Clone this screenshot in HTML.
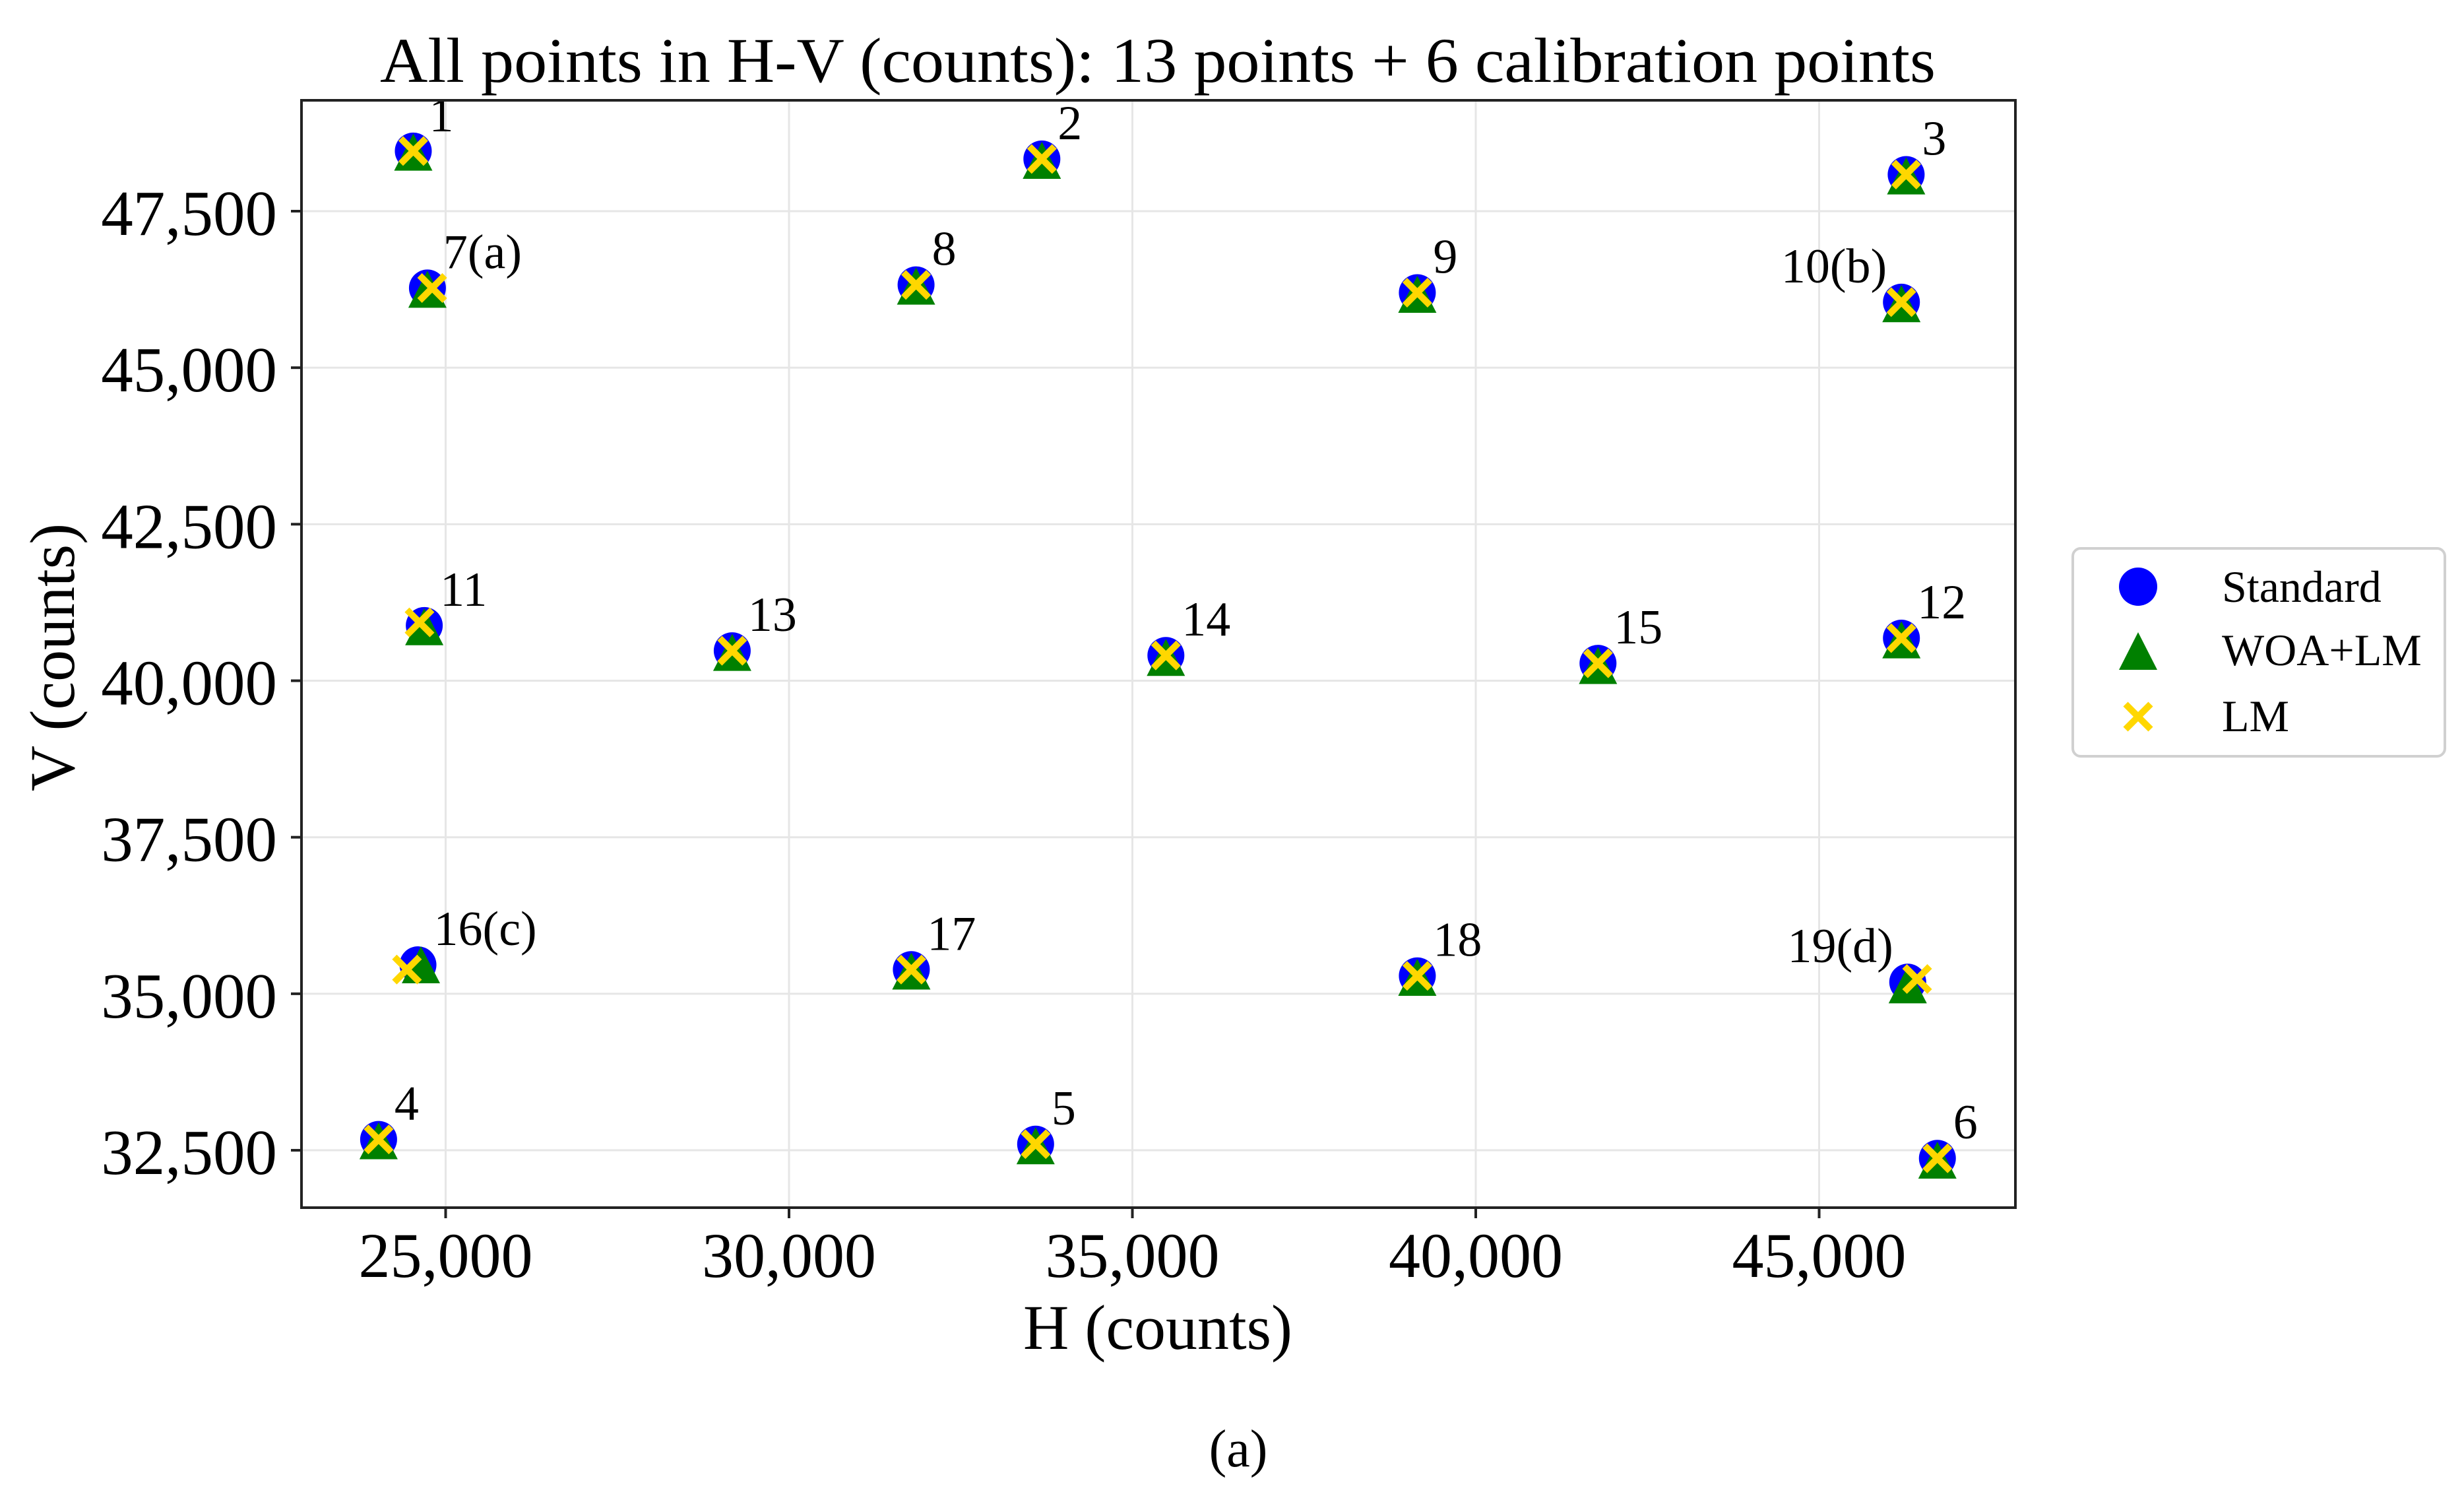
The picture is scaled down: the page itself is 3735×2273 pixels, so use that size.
<!DOCTYPE html>
<html><head><meta charset="utf-8"><style>
html,body{margin:0;padding:0;background:#fff;}
svg{display:block;font-family:"Liberation Serif",serif;}
</style></head><body>
<svg id="chart" width="3735" height="2273" viewBox="0 0 3735 2273">
<rect x="0" y="0" width="3735" height="2273" fill="#fff"/>
<g id="grid"></g>
<g id="marks"></g>
<rect x="457" y="152" width="2598" height="1678" fill="none" stroke="#222" stroke-width="4"/>
<g id="axes"></g>
<text x="1755" y="124" font-size="96" text-anchor="middle" textLength="2358" lengthAdjust="spacingAndGlyphs">All points in H-V (counts): 13 points + 6 calibration points</text>
<text x="1755" y="2044" font-size="96" text-anchor="middle">H (counts)</text>
<text transform="translate(112,996) rotate(-90)" font-size="96" text-anchor="middle">V (counts)</text>
<text x="1877" y="2222" font-size="80" text-anchor="middle">(a)</text>
<g>
<rect x="3142" y="831" width="564" height="315" rx="12" fill="#fff" stroke="#d0d0d0" stroke-width="4"/>
<g>
<circle cx="3241" cy="889" r="29" fill="#0000ff"/>
<text x="3368" y="912" font-size="68">Standard</text></g>
<g>
<polygon points="3241,958 3270,1015 3212,1015" fill="#008000"/>
<text x="3368" y="1008" font-size="68">WOA+LM</text></g>
<g>
<path d="M3222,1067 L3260,1105 M3260,1067 L3222,1105" stroke="#ffd700" stroke-width="10"/>
<text x="3368" y="1108" font-size="68">LM</text></g>
</g>
</svg>
<script>
const pointNames = ["1","2","3","4","5","6","7(a)","8","9","10(b)","11","12","13","14","15","16(c)","17","18","19(d)"];
const labelSide = ["r","r","r","r","r","r","r","r","r","l","r","r","r","r","r","r","r","r","l"];
const stdH = [24529,33682,46267,24024,33591,46722,24735,31850,39149,46198,24689,46198,29173,35488,41780,24597,31781,39149,46290];
const stdV = [48461,48334,48085,32673,32598,32372,46273,46323,46198,46047,40882,40680,40479,40404,40278,35462,35386,35286,35186];
const woaH = [24529,33682,46267,24024,33591,46722,24735,31850,39149,46198,24689,46198,29173,35488,41780,24640,31781,39149,46290];
const woaV = [48400,48270,48020,32610,32530,32300,46210,46260,46130,45980,40820,40610,40410,40330,40200,35420,35320,35220,35100];
const lmH = [24529,33682,46267,24024,33591,46722,24804,31850,39149,46198,24620,46198,29173,35488,41780,24437,31781,39149,46427];
const lmV = [48461,48334,48085,32673,32598,32372,46273,46323,46198,46047,40932,40680,40479,40404,40278,35387,35386,35286,35236];
const xTicks = [25000,30000,35000,40000,45000];
const xTickLabels = ["25,000","30,000","35,000","40,000","45,000"];
const yTicks = [32500,35000,37500,40000,42500,45000,47500];
const yTickLabels = ["32,500","35,000","37,500","40,000","42,500","45,000","47,500"];

const NS = "http://www.w3.org/2000/svg";
function X(h){ return 675.5 + (h - 25000) * 0.1041; }
function Y(v){ return 320 + (47500 - v) * 0.09487; }
function mk(tag, attrs, parent){ const e = document.createElementNS(NS, tag); for (const k in attrs) e.setAttribute(k, attrs[k]); parent.appendChild(e); return e; }
const grid = document.getElementById('grid'), axes = document.getElementById('axes'), marks = document.getElementById('marks');

xTicks.forEach((t, i) => {
  const x = X(t);
  const g = mk('line', {x1:x, x2:x, y1:152, y2:1830, stroke:'#e6e6e6', 'stroke-width':3}, grid);
  
  
  const tk = mk('line', {x1:x, x2:x, y1:1830, y2:1846, stroke:'#222', 'stroke-width':4}, axes);
  
  
  const tx = mk('text', {x:x, y:1935, 'font-size':96, 'text-anchor':'middle'}, axes);
  tx.textContent = xTickLabels[i];
  
  
});
yTicks.forEach((t, i) => {
  const y = Y(t);
  const g = mk('line', {x1:457, x2:3055, y1:y, y2:y, stroke:'#e6e6e6', 'stroke-width':3}, grid);
  
  
  const tk = mk('line', {x1:441, x2:457, y1:y, y2:y, stroke:'#222', 'stroke-width':4}, axes);
  
  
  const tx = mk('text', {x:420, y:y + 36, 'font-size':97, 'text-anchor':'end'}, axes);
  tx.textContent = yTickLabels[i];
  
  
});

pointNames.forEach((n, i) => {
  const cx = X(stdH[i]), cy = Y(stdV[i]);
  const c = mk('circle', {cx:cx, cy:cy, r:28, fill:'#0000ff'}, marks);
  
  
  const tx = X(woaH[i]), ty = Y(woaV[i]);
  const t = mk('polygon', {points:`${tx},${ty-32} ${tx+29},${ty+24} ${tx-29},${ty+24}`, fill:'#008000'}, marks);
  
  
  const lx = X(lmH[i]), ly = Y(lmV[i]);
  const p = mk('path', {d:`M${lx-19},${ly-19} L${lx+19},${ly+19} M${lx+19},${ly-19} L${lx-19},${ly+19}`, stroke:'#ffd700', 'stroke-width':10}, marks);
  
  
  const right = labelSide[i] === 'r';
  const lb = mk('text', {x: right ? cx + 24 : cx - 22, y: cy - 30, 'font-size':74, 'text-anchor': right ? 'start' : 'end'}, marks);
  lb.textContent = n;
  
  
});
</script>
</body></html>
